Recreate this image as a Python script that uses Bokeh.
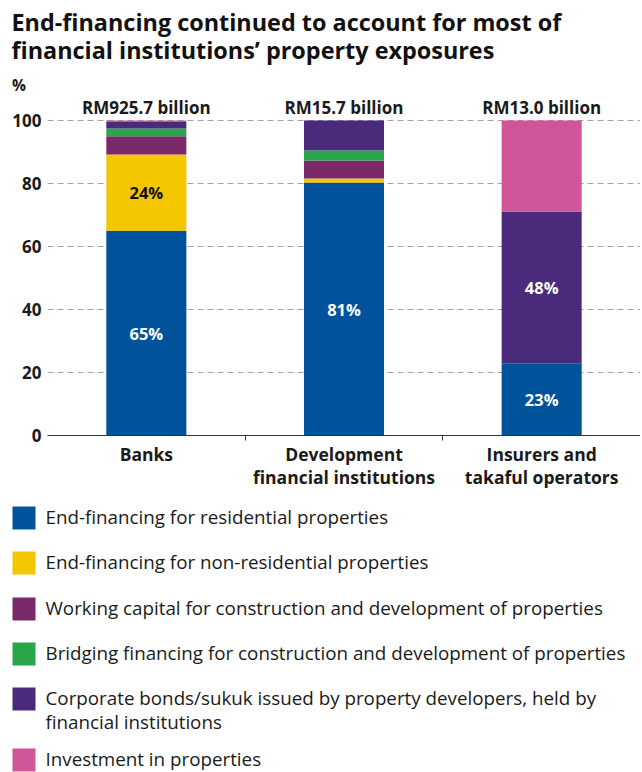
from bokeh.plotting import figure
from bokeh.models import ColumnDataSource, Range1d, FactorRange, FixedTicker, LinearAxis
from bokeh.layouts import column
from bokeh.embed import file_html
from bokeh.resources import INLINE
from bokeh.core.properties import value

# ---------------- data ----------------
title_lines = ["End-financing continued to account for most of",
               "financial institutions\u2019 property exposures"]
y_unit = "%"
categories = ["Banks", "Development\nfinancial institutions", "Insurers and\ntakaful operators"]
totals = ["RM925.7 billion", "RM15.7 billion", "RM13.0 billion"]

series_names = [
    "End-financing for residential properties",
    "End-financing for non-residential properties",
    "Working capital for construction and development of properties",
    "Bridging financing for construction and development of properties",
    "Corporate bonds/sukuk issued by property developers, held by\nfinancial institutions",
    "Investment in properties",
]
residential = [65.0, 80.3, 22.9]
non_residential = [24.2, 1.3, 0.0]
working_capital = [5.8, 5.7, 0.0]
bridging = [2.5, 3.2, 0.0]
corporate_bonds = [2.0, 9.5, 48.2]
investment = [0.5, 0.0, 28.9]
y_ticks = [0, 20, 40, 60, 80, 100]

# labelled segments: (category index, series index, text)
seg_labels = [(0, 0, "65%"), (1, 0, "81%"), (2, 0, "23%"), (0, 1, "24%"), (2, 4, "48%")]

colors = ["#00539b", "#f3c600", "#7a2a6b", "#2aa64a", "#4a2a7a", "#d05599"]
label_colors = ["white", "#111111", "white", "white", "white", "white"]

FONT = "Open Sans"
TXT = "#1a1a1a"
W = 640


def no_align(fig):
    try:
        fig.frame_align = False
    except Exception:
        pass


# ---------------- header ----------------
HH = 95
hdr = figure(width=W, height=HH, x_range=Range1d(0, W), y_range=Range1d(HH, 0),
             toolbar_location=None, output_backend="svg", x_axis_type=None, y_axis_type=None,
             min_border=0, outline_line_color=None)
no_align(hdr)
hdr.grid.visible = False
hdr.text(x=[11, 11], y=[21, 49.5], text=title_lines, text_font=value(FONT), text_font_style="bold",
         text_font_size="23.4px", text_baseline="middle", text_align="left", text_color="#111111")
hdr.text(x=[11.5], y=[84], text=[y_unit], text_font=value(FONT), text_font_style="bold",
         text_font_size="15.5px", text_baseline="middle", text_align="left", text_color=TXT)

# ---------------- main chart ----------------
keys = ["s0", "s1", "s2", "s3", "s4", "s5"]
series = [residential, non_residential, working_capital, bridging, corporate_bonds, investment]
src = ColumnDataSource(data=dict(cat=categories, **{k: v for k, v in zip(keys, series)}))

p = figure(width=W, height=400,
           x_range=FactorRange(factors=categories, range_padding=0, factor_padding=0),
           y_range=Range1d(0, 107.94),
           toolbar_location=None, output_backend="svg",
           min_border_left=47, min_border_right=0, min_border_top=0, min_border_bottom=60,
           outline_line_color=None)
no_align(p)

p.vbar_stack(keys, x="cat", width=0.405, color=colors, line_color=None, source=src)

# segment labels, positioned from cumulative data
lx, ly, lt, lc = [], [], [], []
for ci, si, t in seg_labels:
    base = sum(series[k][ci] for k in range(si))
    lx.append(categories[ci])
    ly.append(base + series[si][ci] / 2)
    lt.append(t)
    lc.append(label_colors[si])
p.text(x=lx, y=ly, text=lt, text_color=lc, text_font=value(FONT), text_font_style="bold",
       text_font_size="16.5px", text_align="center", text_baseline="middle")

# totals above bars
p.text(x=categories, y=[104.06] * 3, text=totals, text_font=value(FONT), text_font_style="bold",
       text_font_size="17px", text_align="center", text_baseline="middle", text_color=TXT)

p.xgrid.visible = False
p.ygrid.grid_line_color = "#a3a3a3"
p.ygrid.grid_line_dash = "6 4"
p.ygrid.grid_line_width = 1

p.yaxis.ticker = FixedTicker(ticks=y_ticks)
p.yaxis.axis_line_color = None
p.yaxis.major_tick_line_color = None
p.yaxis.minor_tick_line_color = None
p.yaxis.major_label_standoff = 0
p.yaxis.major_label_text_font = FONT
p.yaxis.major_label_text_font_style = "bold"
p.yaxis.major_label_text_font_size = "17px"
p.yaxis.major_label_text_color = TXT

# boundary ticks between categories (axis line + small ticks, no labels)
sep_axis = LinearAxis(ticker=FixedTicker(ticks=[1, 2]), axis_line_color="#333333", axis_line_width=1.2,
                      major_tick_line_color="#333333", major_tick_in=0, major_tick_out=5,
                      minor_tick_line_color=None, major_label_overrides={1: "", 2: ""},
                      major_label_text_font_size="1px", major_label_standoff=0)
cat_axis = p.xaxis[0]
p.below = [sep_axis] + list(p.below)

cat_axis.axis_line_color = None
cat_axis.major_tick_line_color = None
cat_axis.major_label_standoff = -5
cat_axis.major_label_text_font = FONT
cat_axis.major_label_text_font_style = "bold"
cat_axis.major_label_text_font_size = "17.5px"
cat_axis.major_label_text_line_height = 0.97
cat_axis.major_label_text_color = TXT

# ---------------- legend ----------------
LH = 277
leg = figure(width=W, height=LH, x_range=Range1d(0, W), y_range=Range1d(LH, 0),
             toolbar_location=None, output_backend="svg", x_axis_type=None, y_axis_type=None,
             min_border=0, outline_line_color=None)
no_align(leg)
leg.grid.visible = False
sq_top = [11, 56, 102, 147, 192, 253]
leg.rect(x=[23.5] * 6, y=[t + 11.5 for t in sq_top], width=23, height=23, color=colors, line_color=None)
leg.text(x=[45] * 6, y=[t - 2.7 for t in sq_top], text=series_names, text_font=value(FONT),
         text_font_size="18.8px", text_align="left", text_baseline="top", text_color=TXT,
         text_line_height=0.94)

layout = column(hdr, p, leg)
open("out.html", "w").write(file_html(layout, INLINE))
